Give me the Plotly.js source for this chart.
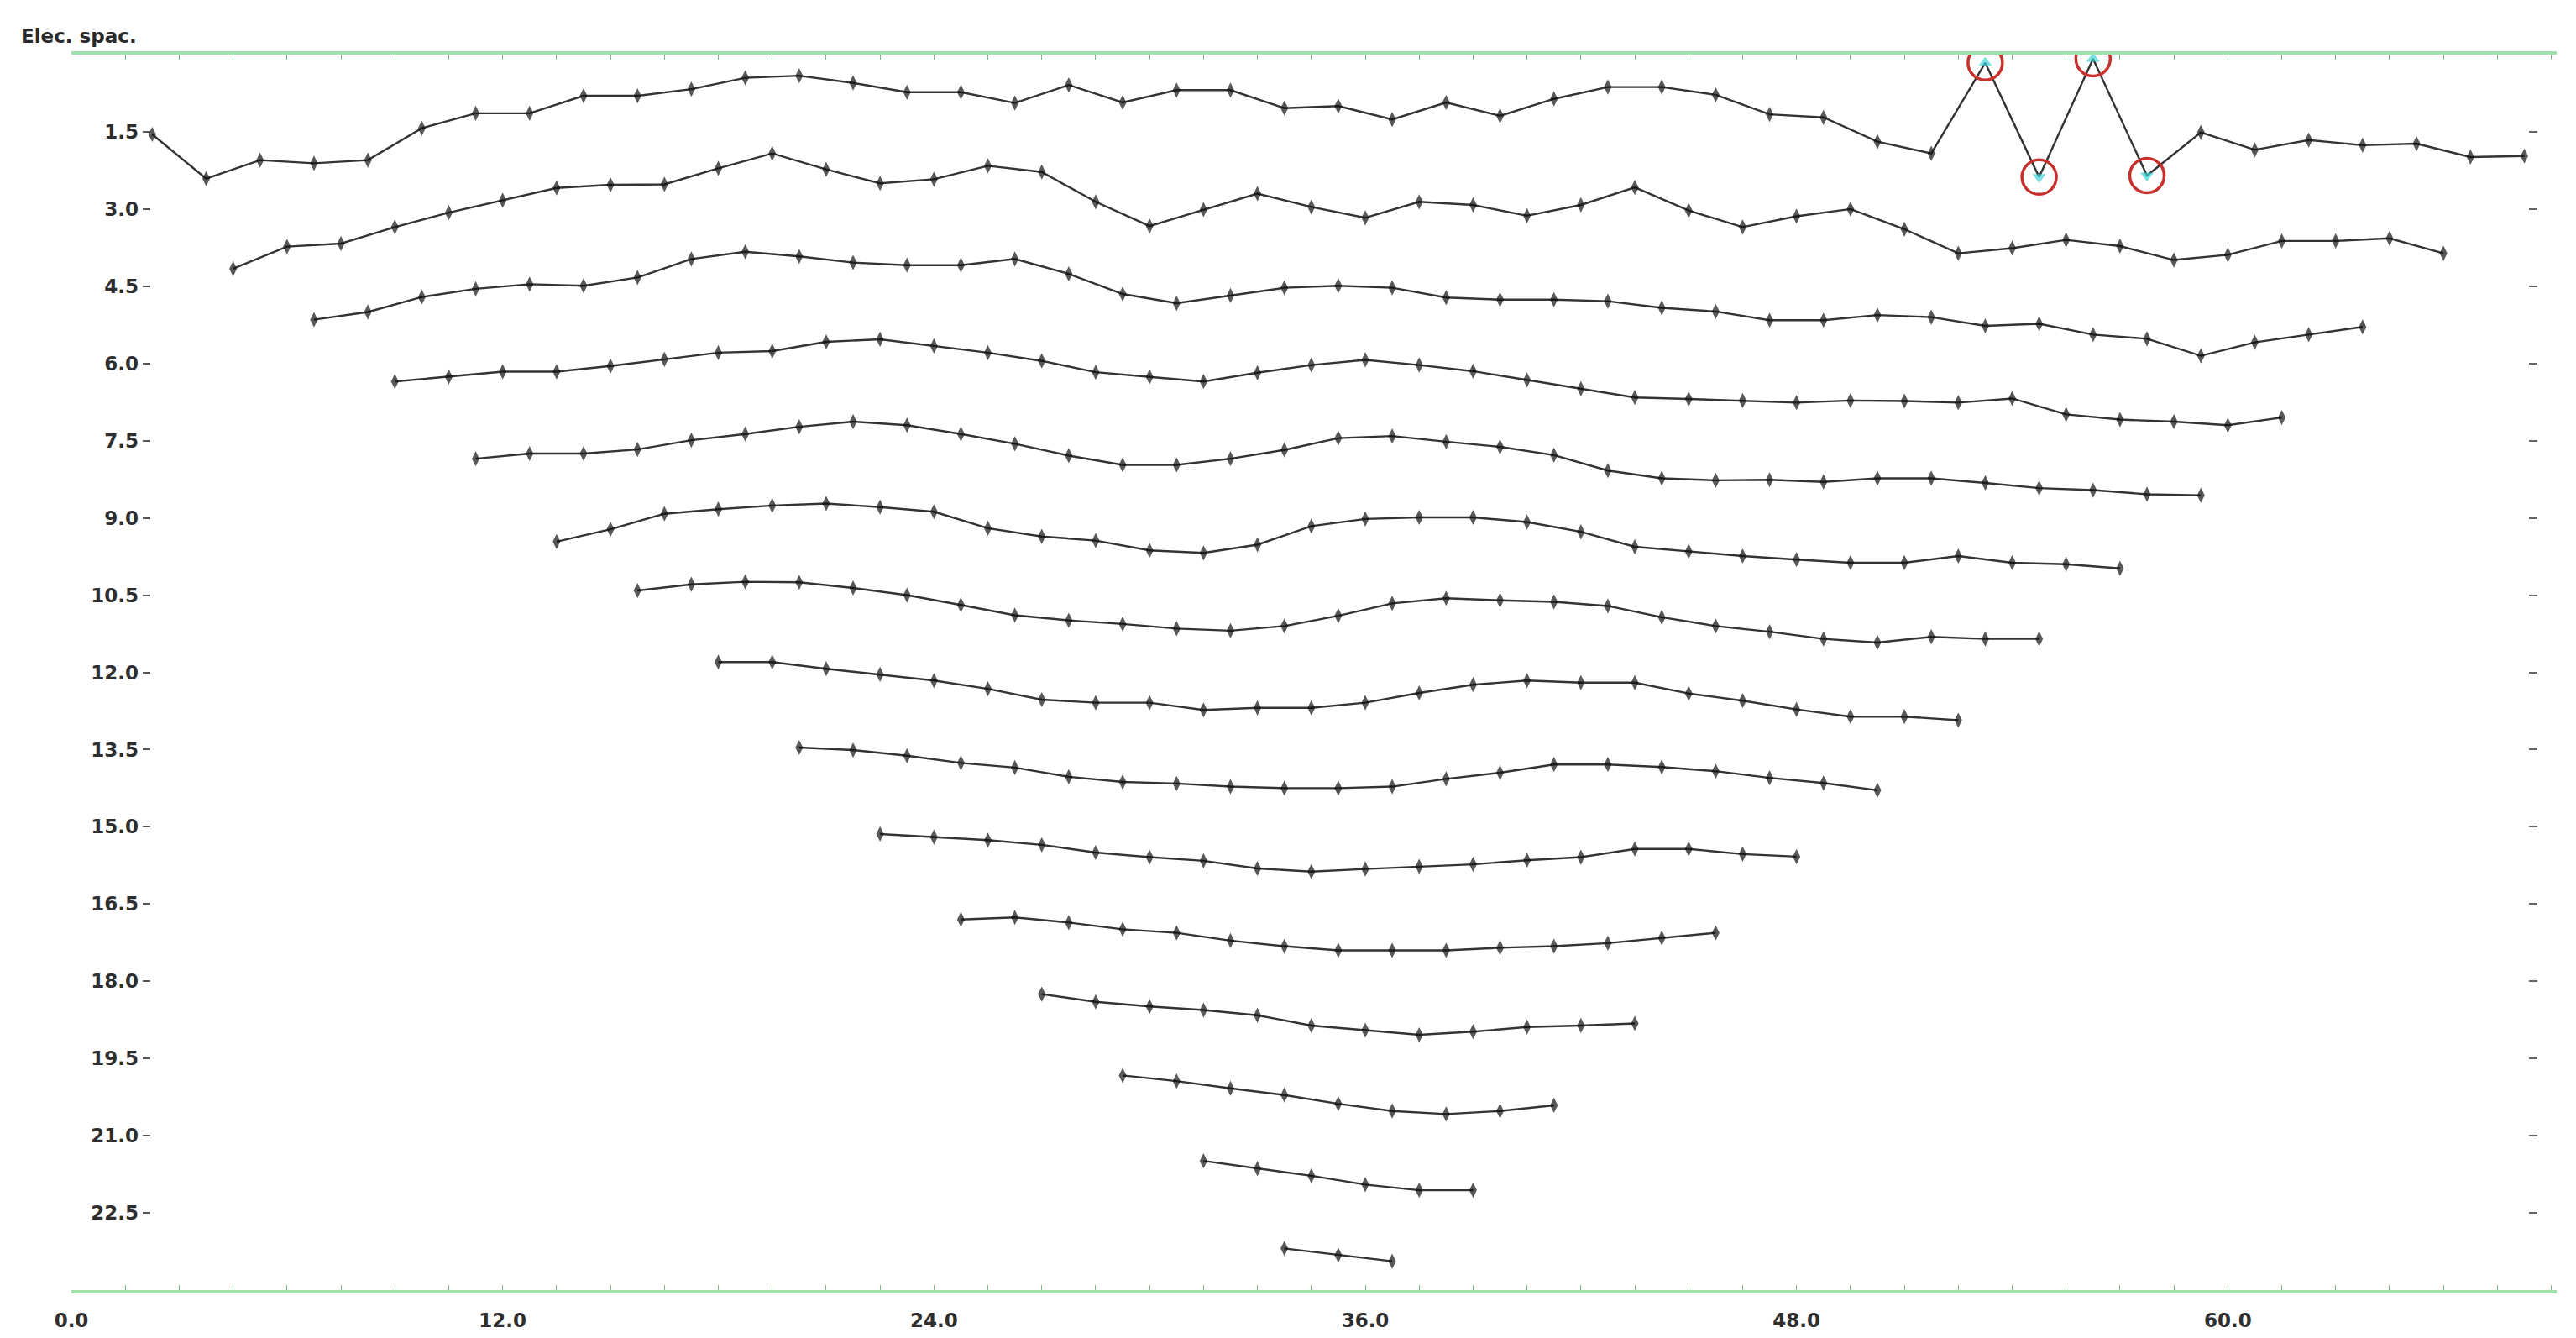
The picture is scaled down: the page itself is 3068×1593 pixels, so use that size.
<!DOCTYPE html>
<html>
<head>
<meta charset="utf-8">
<script src="https://cdn.plot.ly/plotly-3.0.1.min.js"></script>
<style>
  html, body { margin: 0; padding: 0; background: #fff; }
  #chart { width: 3068px; height: 1593px; }
</style>
</head>
<body>
<div id="chart"></div>
<script>
// electrode spacing and first datum point of each level (Wenner layout)
var elecSpacing = 1.5;
var firstX = [2.25, 4.5, 6.75, 9, 11.25, 13.5, 15.75, 18, 20.25, 22.5, 24.75, 27, 29.25, 31.5, 33.75];

// depth levels shown on the left
var depthLevels = [1.5, 3.0, 4.5, 6.0, 7.5, 9.0, 10.5, 12.0, 13.5, 15.0, 16.5, 18.0, 19.5, 21.0, 22.5];

// plotted profile positions
var level1 = [1.55, 2.41, 2.05, 2.11, 2.05, 1.43, 1.14, 1.14, 0.80, 0.80, 0.67, 0.45, 0.41, 0.55, 0.73,
  0.73, 0.94, 0.59, 0.93, 0.69, 0.69, 1.04, 1.00, 1.26, 0.93, 1.19, 0.86, 0.63, 0.63, 0.78,
  1.16, 1.22, 1.69, 1.92, 0.16, 2.38, 0.08, 2.35, 1.51, 1.85, 1.66, 1.76, 1.73, 1.99, 1.97];
var level2 = [4.16, 3.73, 3.67, 3.35, 3.07, 2.83, 2.59, 2.53, 2.52, 2.21, 1.92, 2.23, 2.50, 2.42,
  2.16, 2.28, 2.86, 3.33, 3.01, 2.70, 2.96, 3.17, 2.86, 2.92, 3.13, 2.92, 2.58, 3.03,
  3.35, 3.14, 3.00, 3.39, 3.86, 3.76, 3.60, 3.72, 3.99, 3.89, 3.62, 3.62, 3.57, 3.86];
var level3 = [5.15, 5.00, 4.71, 4.55, 4.46, 4.49, 4.33, 3.97, 3.83, 3.92, 4.04, 4.09, 4.09,
  3.97, 4.26, 4.65, 4.83, 4.68, 4.53, 4.49, 4.53, 4.72, 4.76, 4.76, 4.79, 4.92,
  4.99, 5.16, 5.16, 5.06, 5.10, 5.27, 5.23, 5.44, 5.52, 5.85, 5.59, 5.44, 5.29];
var level4 = [6.35, 6.26, 6.16, 6.16, 6.05, 5.92, 5.79, 5.76, 5.58, 5.53, 5.66, 5.79,
  5.95, 6.17, 6.26, 6.35, 6.18, 6.03, 5.93, 6.03, 6.15, 6.32, 6.49, 6.66,
  6.69, 6.72, 6.76, 6.72, 6.73, 6.76, 6.68, 6.99, 7.09, 7.13, 7.20, 7.05];
var level5 = [7.85, 7.75, 7.75, 7.67, 7.49, 7.37, 7.23, 7.13, 7.20, 7.37, 7.56,
  7.79, 7.97, 7.97, 7.85, 7.68, 7.45, 7.41, 7.52, 7.62, 7.78, 8.08,
  8.23, 8.27, 8.26, 8.30, 8.23, 8.23, 8.32, 8.42, 8.46, 8.54, 8.56];
var level6 = [9.46, 9.22, 8.92, 8.83, 8.76, 8.72, 8.79, 8.88, 9.20, 9.36,
  9.44, 9.63, 9.68, 9.52, 9.16, 9.02, 8.99, 8.99, 9.08, 9.27,
  9.56, 9.65, 9.74, 9.81, 9.87, 9.87, 9.74, 9.87, 9.90, 9.98];
var level7 = [10.41, 10.29, 10.24, 10.25, 10.36, 10.50, 10.69, 10.89, 10.99,
  11.06, 11.15, 11.19, 11.10, 10.90, 10.66, 10.56, 10.60, 10.63,
  10.71, 10.93, 11.10, 11.21, 11.35, 11.42, 11.31, 11.35, 11.35];
var level8 = [11.80, 11.80, 11.93, 12.04, 12.16, 12.32, 12.53, 12.59,
  12.59, 12.73, 12.69, 12.69, 12.59, 12.40, 12.24, 12.16,
  12.20, 12.20, 12.41, 12.55, 12.72, 12.86, 12.86, 12.93];
var level9 = [13.46, 13.51, 13.62, 13.76, 13.85, 14.03, 14.13,
  14.16, 14.22, 14.25, 14.25, 14.22, 14.07, 13.95,
  13.79, 13.79, 13.84, 13.92, 14.05, 14.15, 14.29];
var level10 = [15.14, 15.20, 15.26, 15.35, 15.50, 15.59, 15.66, 15.81, 15.87,
  15.82, 15.77, 15.73, 15.65, 15.59, 15.43, 15.43, 15.53, 15.58];
var level11 = [16.80, 16.76, 16.86, 16.99, 17.06, 17.21, 17.32, 17.40,
  17.40, 17.40, 17.35, 17.32, 17.26, 17.16, 17.06];
var level12 = [18.25, 18.40, 18.49, 18.56, 18.66, 18.86, 18.95, 19.04, 18.98, 18.89, 18.86, 18.82];
var level13 = [19.83, 19.94, 20.08, 20.21, 20.38, 20.52, 20.58, 20.52, 20.41];
var level14 = [21.49, 21.64, 21.78, 21.95, 22.06, 22.06];
var level15 = [23.19, 23.32, 23.44];

// bad data points on the first level (index, arrow direction)
var flagged = [34, 35, 36, 37];
var flagDir = ['up', 'down', 'up', 'down'];

var levels = [level1, level2, level3, level4, level5, level6, level7, level8,
  level9, level10, level11, level12, level13, level14, level15];

var textFont = {family: 'DejaVu Sans, Verdana, sans-serif', size: 23, color: '#2e2e2e', weight: 'bold'};

var data = [];
levels.forEach(function (vals, i) {
  var xs = vals.map(function (v, k) { return firstX[i] + elecSpacing * k; });
  var sym = vals.map(function () { return 'diamond-tall'; });
  var col = vals.map(function () { return '#111'; });
  var sz = vals.map(function () { return 13; });
  if (i === 0) {
    flagged.forEach(function (k, j) {
      sym[k] = flagDir[j] === 'up' ? 'triangle-up' : 'triangle-down';
      col[k] = '#3fd3d6';
      sz[k] = 14;
    });
  }
  data.push({
    x: xs, y: vals,
    type: 'scatter', mode: 'lines+markers',
    line: {color: '#333', width: 2.4},
    marker: {symbol: sym, color: col, size: sz, line: {width: 0}},
    hoverinfo: 'x+y'
  });
});

// red rings round the flagged points
data.push({
  x: flagged.map(function (k) { return firstX[0] + elecSpacing * k; }),
  y: flagged.map(function (k) { return level1[k]; }),
  xaxis: 'x', yaxis: 'y2',
  type: 'scatter', mode: 'markers',
  marker: {symbol: 'circle-open', size: 41, color: '#c8302c', line: {width: 3.5, color: '#c8302c'}},
  hoverinfo: 'skip'
});

var layout = {
  width: 3068,
  height: 1593,
  margin: {l: 85, r: 23, t: 65, b: 57},
  paper_bgcolor: '#fff',
  plot_bgcolor: '#fff',
  showlegend: false,
  xaxis: {
    range: [0, 69.15],
    showgrid: false, zeroline: false,
    showline: true, linecolor: '#9fe0ab', linewidth: 4, mirror: 'allticks',
    ticks: 'inside', ticklen: 6, tickwidth: 1, tickcolor: '#78b888',
    tick0: 0, dtick: 12, tickformat: '.1f',
    minor: {tick0: 0, dtick: 1.5, ticks: 'inside', ticklen: 6, tickwidth: 1, tickcolor: '#78b888'},
    tickfont: textFont,
    ticklabelstandoff: 12
  },
  yaxis: {
    range: [24, 0],
    anchor: 'free', position: 0.0316,
    showgrid: false, zeroline: false, showline: false,
    tickmode: 'array',
    tickvals: depthLevels,
    ticktext: depthLevels.map(function (v) { return v.toFixed(1); }),
    ticks: 'outside', ticklen: 9, tickwidth: 2, tickcolor: '#555',
    tickfont: textFont
  },
  yaxis2: {
    range: [24, 0],
    overlaying: 'y', side: 'right',
    anchor: 'free', position: 0.9885,
    showgrid: false, zeroline: false, showline: false,
    tickmode: 'array', tickvals: depthLevels,
    showticklabels: false,
    ticks: 'outside', ticklen: 10, tickwidth: 2, tickcolor: '#666'
  },
  annotations: [{
    text: 'Elec. spac.',
    xref: 'paper', yref: 'paper',
    x: -0.0208, y: 1.015, xanchor: 'left', yanchor: 'middle',
    showarrow: false,
    font: {family: 'DejaVu Sans, Verdana, sans-serif', size: 23, color: '#2a2a2a', weight: 'bold'}
  }]
};

Plotly.newPlot('chart', data, layout, {displayModeBar: false, staticPlot: true});
</script>
</body>
</html>
